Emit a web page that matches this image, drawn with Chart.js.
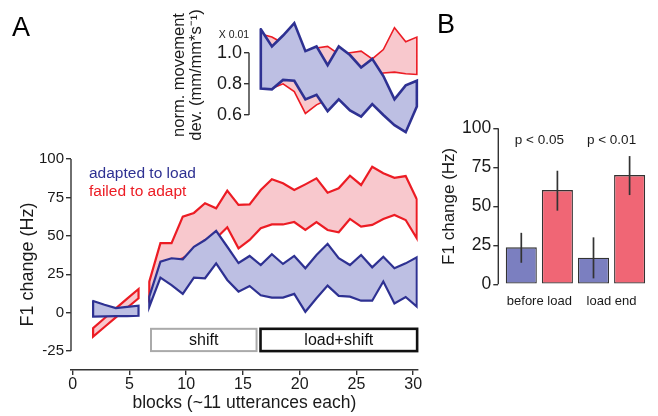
<!DOCTYPE html>
<html>
<head>
<meta charset="utf-8">
<script src="https://cdn.jsdelivr.net/npm/chart.js@4.4.1/dist/chart.umd.min.js"></script>
<style>
  html, body { margin: 0; padding: 0; background: #fff; }
  #wrap { position: relative; width: 658px; height: 416px; }
  #wrap canvas { position: absolute; left: 0; top: 0; }
</style>
</head>
<body>
<div id="wrap">
  <canvas id="mainChart" width="658" height="416"></canvas>
  <canvas id="insetChart" width="658" height="416"></canvas>
  <canvas id="barChart" width="658" height="416"></canvas>
</div>
<script>
// ---- panel A: F1 change per block (band = upper / lower edge) ----
const baseBlocks = [1.8, 2.8, 3.8, 4.8, 5.8];
const baseAdaptedHi = [7.6, 5.2, 3.0, 3.8, 4.6];
const baseAdaptedLo = [-2.6, -2.4, -2.2, -2.2, -2.0];
const baseFailedHi = [-10, -3.6, 2.8, 9.1, 15.4];
const baseFailedLo = [-15.6, -9.3, -3.1, 3.2, 9.4];

const blocks = [6.75, 7.73, 8.71, 9.70, 10.68, 11.66, 12.64, 13.62, 14.61, 15.59, 16.57, 17.55, 18.53,
  19.52, 20.50, 21.48, 22.46, 23.44, 24.43, 25.41, 26.39, 27.37, 28.35, 29.34, 30.32];
const failedHi = [20.2, 45.2, 45.2, 62.5, 64.9, 71.2, 67.9, 79.4, 70.1, 70.5, 79.8, 86.8, 84.2,
  79.8, 83.5, 87.4, 78.1, 80.9, 89.1, 83.1, 95.0, 90.7, 87.8, 88.9, 73.8];
const failedLo = [10, 30, 33, 35.4, 39.7, 47.3, 48.4, 55.6, 41.9, 47.3, 54.9, 57.4, 57.4,
  59.0, 53.8, 59.0, 53.8, 52.3, 61.0, 56.0, 57.1, 61.0, 63.6, 60.3, 48.4];
const adaptedHi = [10.4, 33.2, 35.4, 34.7, 42.9, 47.3, 53.2, 42.9, 32.3, 36.9, 31.0, 38.0, 31.7,
  36.9, 28.9, 37.5, 44.8, 35.4, 31.0, 37.5, 29.5, 36.4, 28.9, 32.1, 36.0];
const adaptedLo = [3.9, 22.8, 18.0, 12.2, 22.8, 22.4, 32.1, 21.3, 13.7, 17.4, 11.3, 9.8, 9.8,
  12.2, 0.6, 9.4, 17.6, 10.9, 10.4, 7.8, 7.8, 20.3, 6.0, 10.2, 3.9];
const f1Ticks = [-25, 0, 25, 50, 75, 100];
const blockTicks = [0, 5, 10, 15, 20, 25, 30];

const phases = ['shift', 'load+shift'];
const phaseStart = [6.9, 16.55];
const phaseEnd = [16.2, 30.35];

// ---- inset: movement deviation during load (x 0.01) ----
const insetBlocks = blocks.slice(10);
const moveAdaptedHi = [1.15, 1.04, 1.11, 1.19, 1.01, 1.04, 0.92, 1.04, 0.985, 0.905, 0.96, 0.85, 0.70, 0.79, 0.82];
const moveAdaptedLo = [0.77, 0.765, 0.825, 0.82, 0.70, 0.73, 0.625, 0.70, 0.63, 0.59, 0.67, 0.60, 0.535, 0.49, 0.655];
const moveFailedHi = [1.12, 1.10, 1.06, 1.08, 1.0, 1.03, 1.04, 0.99, 1.0, 1.01, 0.96, 1.02, 1.16, 1.07, 1.10];
const moveFailedLo = [0.78, 0.77, 0.80, 0.75, 0.61, 0.665, 0.70, 0.72, 0.75, 0.78, 0.84, 0.87, 0.875, 0.865, 0.86];
const moveTicks = [0.6, 0.8, 1.0];

// ---- panel B ----
const groups = ['before load', 'load end'];
const adaptedF1 = [23.7, 17];
const adaptedLow = [13.8, 3.8];
const adaptedHigh = [33, 30.1];
const failedF1 = [60.4, 70];
const failedLow = [47.2, 57.2];
const failedHigh = [72.8, 82.2];
const pValues = ['p < 0.05', 'p < 0.01'];

const FONT = "'Liberation Sans', Arial, Helvetica, sans-serif";
const AXIS = '#333';
const BLUE = '#2e3192', BLUE_FILL = '#bdbfe3';
const RED = '#ec1c24', RED_FILL = '#f8c8cd';

Chart.defaults.font.family = FONT;
Chart.defaults.color = '#1a1a1a';
Chart.defaults.animation = false;
Chart.defaults.responsive = false;
Chart.defaults.plugins.legend.display = false;
Chart.defaults.plugins.tooltip.enabled = false;

// fixed axis box size, no extra label padding so chart areas land where we want
function fixBox(size) {
  return function (scale) {
    if (scale.isHorizontal()) scale.height = size; else scale.width = size;
    scale.paddingLeft = scale.paddingRight = scale.paddingTop = scale.paddingBottom = 0;
  };
}

function setTicks(values) {
  return function (scale) { scale.ticks = values.map(v => ({value: v})); };
}

// closed outline: upper edge forward, lower edge back
function band(xs, hi, lo) {
  const pts = xs.map((x, i) => ({x: x, y: hi[i]}));
  for (let i = xs.length - 1; i >= 0; i--) pts.push({x: xs[i], y: lo[i]});
  pts.push(pts[0]);
  return pts;
}

function bandSet(xs, hi, lo, color, fillColor, width) {
  return {
    data: band(xs, hi, lo),
    borderColor: color,
    backgroundColor: fillColor,
    borderWidth: width,
    fill: 'shape',
    pointRadius: 0,
    tension: 0,
    borderCapStyle: 'round'
  };
}

const tickGrid = {drawOnChartArea: false, drawTicks: true, tickLength: 5, color: AXIS, lineWidth: 1.4};

// y axis line only over the labelled range
const spine = {
  id: 'spine',
  afterDraw(chart, args, opts) {
    const y = chart.scales.y, ctx = chart.ctx;
    ctx.save();
    ctx.strokeStyle = AXIS;
    ctx.lineWidth = 1.4;
    ctx.beginPath();
    ctx.moveTo(y.right, y.getPixelForValue(opts.from));
    ctx.lineTo(y.right, y.getPixelForValue(opts.to));
    ctx.stroke();
    ctx.restore();
  }
};

const mainDecor = {
  id: 'mainDecor',
  afterDraw(chart) {
    const {ctx, chartArea: area, scales: {x, y}} = chart;
    ctx.save();
    ctx.fillStyle = '#000';
    ctx.font = '27px ' + FONT;
    ctx.fillText('A', 12, 36);

    ctx.font = '15.5px ' + FONT;
    ctx.textBaseline = 'middle';
    ctx.fillStyle = BLUE;
    ctx.fillText('adapted to load', area.left + 18, area.top + 15);
    ctx.fillStyle = RED;
    ctx.fillText('failed to adapt', area.left + 18, area.top + 33);

    ctx.font = '16px ' + FONT;
    ctx.textAlign = 'center';
    phases.forEach((name, i) => {
      const l = x.getPixelForValue(phaseStart[i]), r = x.getPixelForValue(phaseEnd[i]);
      const t = y.getPixelForValue(-10.5), b = y.getPixelForValue(-25);
      ctx.strokeStyle = i === 0 ? '#aaa' : '#111';
      ctx.lineWidth = i === 0 ? 2 : 2.6;
      ctx.strokeRect(l, t, r - l, b - t);
      ctx.fillStyle = '#111';
      ctx.fillText(name, (l + r) / 2, (t + b) / 2 + 1);
    });
    ctx.restore();
  }
};

new Chart(document.getElementById('mainChart'), {
  type: 'line',
  data: {
    datasets: [
      bandSet(blocks, adaptedHi, adaptedLo, BLUE, BLUE_FILL, 2.2),
      bandSet(baseBlocks, baseAdaptedHi, baseAdaptedLo, BLUE, BLUE_FILL, 2.2),
      bandSet(blocks, failedHi, failedLo, RED, RED_FILL, 2.2),
      bandSet(baseBlocks, baseFailedHi, baseFailedLo, RED, RED_FILL, 2.2)
    ]
  },
  options: {
    layout: {padding: {left: 0, top: 159, right: 240.3, bottom: 0}},
    scales: {
      x: {
        type: 'linear', min: -0.15, max: 30.4,
        afterFit: fixBox(46),
        afterBuildTicks: setTicks(blockTicks),
        ticks: {font: {size: 16}, padding: 0, maxRotation: 0},
        grid: tickGrid,
        border: {display: true, color: AXIS, width: 1.4},
        title: {display: true, text: 'blocks (~11 utterances each)', font: {size: 17.5}, padding: {top: 0, bottom: 2.5}}
      },
      y: {
        min: -37.3, max: 100,
        afterFit: fixBox(71),
        afterBuildTicks: setTicks(f1Ticks),
        ticks: {font: {size: 15}, padding: 2},
        grid: tickGrid,
        border: {display: false},
        title: {display: true, text: 'F1 change (Hz)', font: {size: 18}, padding: {top: 17}}
      }
    },
    plugins: {spine: {from: -25, to: 100}}
  },
  plugins: [spine, mainDecor]
});

const insetDecor = {
  id: 'insetDecor',
  afterDraw(chart) {
    const {ctx, chartArea: area, scales: {y}} = chart;
    ctx.save();
    ctx.fillStyle = '#1a1a1a';
    ctx.font = '10.5px ' + FONT;
    ctx.textAlign = 'center';
    ctx.textBaseline = 'middle';
    ctx.fillText('X 0.01', area.left - 15, y.getPixelForValue(1.0) - 18);
    ctx.restore();
  }
};

new Chart(document.getElementById('insetChart'), {
  type: 'line',
  data: {
    datasets: [
      bandSet(insetBlocks, moveAdaptedHi, moveAdaptedLo, BLUE, BLUE_FILL, 2.6),
      bandSet(insetBlocks, moveFailedHi, moveFailedLo, RED, RED_FILL, 1.6)
    ]
  },
  options: {
    layout: {padding: {left: 160, top: 15, right: 228, bottom: 281}},
    scales: {
      x: {type: 'linear', display: false, min: 15.53, max: 31.48},
      y: {
        min: 0.4718, max: 1.2417,
        afterFit: fixBox(89),
        afterBuildTicks: setTicks(moveTicks),
        ticks: {font: {size: 18}, padding: 2, callback: v => v.toFixed(1)},
        grid: tickGrid,
        border: {display: false},
        title: {
          display: true, text: ['norm. movement', 'dev. (mm/mm*s\u207B\u00B9)'],
          font: {size: 16.5, lineHeight: 1.05}, padding: {top: 10.3}
        }
      }
    },
    plugins: {spine: {from: 0.6, to: 1.0}}
  },
  plugins: [spine, insetDecor]
});

const barDecor = {
  id: 'barDecor',
  afterDatasetsDraw(chart) {
    const {ctx, scales: {x, y}} = chart;
    ctx.save();
    ctx.strokeStyle = '#333';
    ctx.lineWidth = 1.7;
    [[adaptedLow, adaptedHigh], [failedLow, failedHigh]].forEach(([lo, hi], d) => {
      chart.getDatasetMeta(d).data.forEach((bar, i) => {
        ctx.beginPath();
        ctx.moveTo(bar.x, y.getPixelForValue(lo[i]));
        ctx.lineTo(bar.x, y.getPixelForValue(hi[i]));
        ctx.stroke();
      });
    });
    ctx.fillStyle = '#1a1a1a';
    ctx.font = '13.5px ' + FONT;
    ctx.textAlign = 'center';
    ctx.textBaseline = 'middle';
    pValues.forEach((p, i) => ctx.fillText(p, x.getPixelForValue(i * 2 + 1.5), y.getPixelForValue(92.5)));
    ctx.fillStyle = '#000';
    ctx.font = '27px ' + FONT;
    ctx.textAlign = 'left';
    ctx.textBaseline = 'alphabetic';
    ctx.fillText('B', 437, 33);
    ctx.restore();
  }
};

new Chart(document.getElementById('barChart'), {
  type: 'bar',
  data: {
    datasets: [
      {data: adaptedF1.map((v, i) => ({x: i * 2 + 1, y: v})), backgroundColor: '#7b7fc0'},
      {data: failedF1.map((v, i) => ({x: i * 2 + 2, y: v})), backgroundColor: '#f06675'}
    ]
  },
  options: {
    layout: {padding: {left: 436, top: 128.3, right: 8, bottom: 101.7}},
    datasets: {bar: {grouped: false, barPercentage: 0.86, categoryPercentage: 1, borderColor: '#333', borderWidth: 1.3, borderSkipped: false}},
    scales: {
      x: {
        type: 'linear', min: 0.363, max: 4.565, offset: false,
        afterFit: fixBox(30),
        afterBuildTicks: scale => { scale.ticks = groups.map((g, i) => ({value: i * 2 + 1.5})); },
        ticks: {callback: (v, i) => groups[i], font: {size: 13}, padding: 9.6, maxRotation: 0},
        grid: {display: false, drawTicks: false},
        border: {display: false}
      },
      y: {
        min: 0, max: 100,
        afterFit: fixBox(62.3),
        ticks: {stepSize: 25, font: {size: 17.5}, padding: 2},
        grid: tickGrid,
        border: {display: false},
        title: {display: true, text: 'F1 change (Hz)', font: {size: 17}, padding: {top: 3.4}}
      }
    },
    plugins: {spine: {from: 0, to: 100}}
  },
  plugins: [spine, barDecor]
});
</script>
</body>
</html>
